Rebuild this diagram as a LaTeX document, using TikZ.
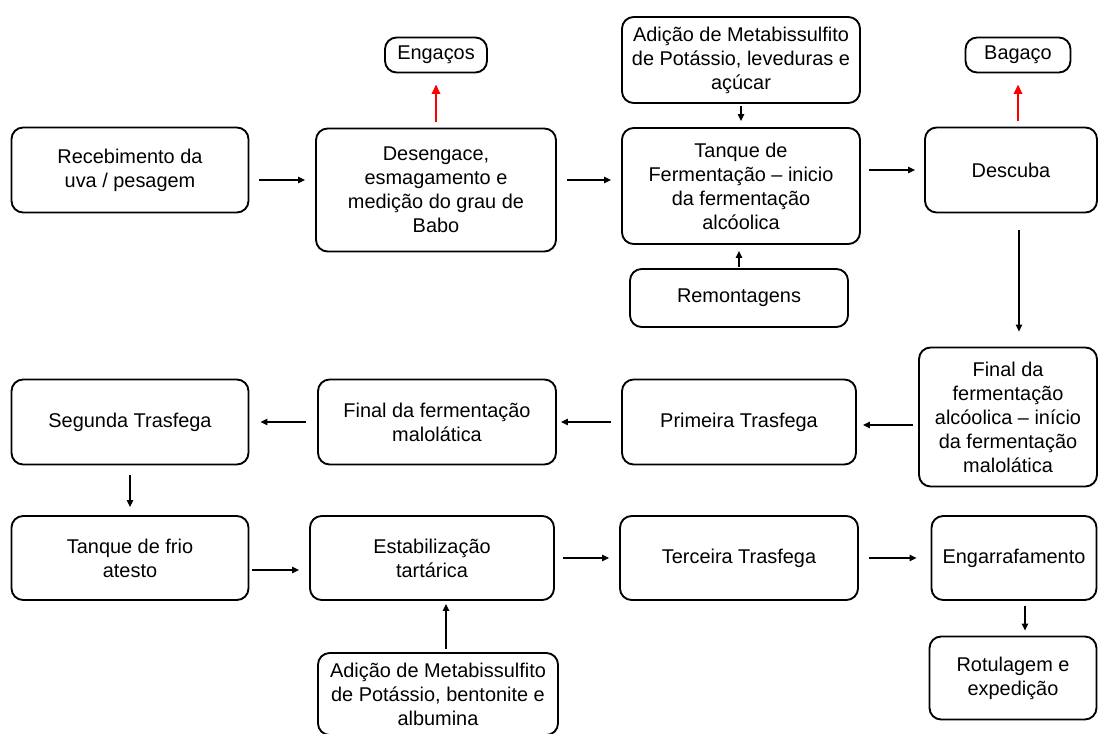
\documentclass[tikz,border=0pt]{standalone}
\usepackage{fontspec}
\setmainfont{Liberation Sans}
\usetikzlibrary{arrows.meta}
\begin{document}
\begin{tikzpicture}[x=0.03cm,y=-0.03cm,caixa/.style={draw,rounded corners=0.35cm,line width=1.6pt,align=center,inner sep=2pt,font=\fontsize{17}{20.5}\selectfont},seta/.style={-{Triangle[length=6pt,width=5.5pt]},line width=0.9pt,shorten <=0.3cm,shorten >=0.3cm},saida/.style={-{Triangle[length=8pt,width=7pt]},line width=2pt,red,shorten <=0.18cm,shorten >=0.33cm}]
\useasboundingbox (0,0) rectangle (1099,734);

% linha de cima
\node[caixa,minimum width=3.06cm,minimum height=1.05cm] (engacos) at (436,55) {Enga\c{c}os};
\node[caixa,minimum width=7.14cm,minimum height=2.58cm] (add1) at (741,60) {Adi\c{c}\~ao de Metabissulfito\\de Pot\'assio, leveduras e\\a\c{c}\'ucar};
\node[caixa,minimum width=3.15cm,minimum height=1.05cm] (bagaco) at (1018,55) {Baga\c{c}o};

\node[caixa,minimum width=7.11cm,minimum height=2.55cm] (receb) at (130,170) {Recebimento da\\uva / pesagem};
\node[caixa,minimum width=7.2cm,minimum height=3.69cm] (desen) at (436,190) {Desengace,\\esmagamento e\\medi\c{c}\~ao do grau de\\Babo};
\node[caixa,minimum width=7.14cm,minimum height=3.48cm] (tanque) at (741,186) {Tanque de\\Fermenta\c{c}\~ao -- inicio\\da fermenta\c{c}\~ao\\alc\'oolica};
\node[caixa,minimum width=5.16cm,minimum height=2.55cm] (descuba) at (1011,170) {Descuba};
\node[caixa,minimum width=6.54cm,minimum height=1.74cm] (remont) at (739,298) {Remontagens};

% linha do meio
\node[caixa,minimum width=5.34cm,minimum height=4.17cm] (finalalc) at (1008,417) {Final da\\fermenta\c{c}\~ao\\alc\'oolica -- in\'icio\\da fermenta\c{c}\~ao\\malol\'atica};
\node[caixa,minimum width=7.02cm,minimum height=2.55cm] (primeira) at (739,422) {Primeira Trasfega};
\node[caixa,minimum width=7.14cm,minimum height=2.55cm] (finalmalo) at (437,422) {Final da fermenta\c{c}\~ao\\malol\'atica};
\node[caixa,minimum width=7.11cm,minimum height=2.55cm] (segunda) at (130,422) {Segunda Trasfega};

% linha de baixo
\node[caixa,minimum width=7.11cm,minimum height=2.52cm] (frio) at (130,558) {Tanque de frio\\atesto};
\node[caixa,minimum width=7.32cm,minimum height=2.52cm] (estab) at (432,558) {Estabiliza\c{c}\~ao\\tart\'arica};
\node[caixa,minimum width=7.14cm,minimum height=2.52cm] (terceira) at (739,558) {Terceira Trasfega};
\node[caixa,minimum width=4.95cm,minimum height=2.52cm] (engarr) at (1014,558) {Engarrafamento};
\node[caixa,minimum width=5.01cm,minimum height=2.49cm] (rotul) at (1013,678) {Rotulagem e\\expedi\c{c}\~ao};
\node[caixa,minimum width=7.2cm,minimum height=2.46cm] (add2) at (438,694) {Adi\c{c}\~ao de Metabissulfito\\de Pot\'assio, bentonite e\\albumina};

% setas
\draw[seta] ([yshift=-0.3cm]receb.east) -- ([yshift=-0.3cm]receb.east -| desen.west);
\draw[seta] ([yshift=0.3cm]desen.east) -- ([yshift=0.3cm]desen.east -| tanque.west);
\draw[seta,shorten <=0.24cm,shorten >=0.27cm] (descuba.west -| tanque.east) -- (descuba.west);
\draw[seta,shorten <=0.06cm,shorten >=0.18cm] (add1.south) -- (tanque.north);
\draw[seta,shorten <=0.03cm,shorten >=0.18cm] (remont.north) -- (remont.north |- tanque.south);
\draw[seta,shorten <=0.51cm,shorten >=0.45cm] ([xshift=0.24cm]descuba.south) -- ([xshift=0.24cm]descuba.south |- finalalc.north);
\draw[seta,shorten <=0.15cm,shorten >=0.18cm] ([yshift=-0.24cm]finalalc.west) -- ([yshift=-0.24cm]finalalc.west -| primeira.east);
\draw[seta,shorten >=0.12cm] (primeira.west) -- (finalmalo.east);
\draw[seta,shorten <=0.33cm,shorten >=0.33cm] (finalmalo.west) -- (segunda.east);
\draw[seta,shorten >=0.24cm] (segunda.south) -- (frio.north);
\draw[seta,shorten <=0.09cm] ([yshift=-0.36cm]frio.east) -- ([yshift=-0.36cm]frio.east -| estab.west);
\draw[seta,shorten <=0.24cm] (estab.east) -- (terceira.west);
\draw[seta,shorten >=0.42cm] (terceira.east) -- (engarr.west);
\draw[seta,shorten <=0.15cm,shorten >=0.15cm] ([xshift=0.33cm]engarr.south) -- ([xshift=0.33cm]engarr.south |- rotul.north);
\draw[seta,shorten <=0.09cm,shorten >=0.09cm] ([xshift=0.24cm]add2.north) -- ([xshift=0.24cm]add2.north |- estab.south);

% residuos
\draw[saida] (desen.north) -- (engacos.south);
\draw[saida] (bagaco.south |- descuba.north) -- (bagaco.south);

\end{tikzpicture}
\end{document}
